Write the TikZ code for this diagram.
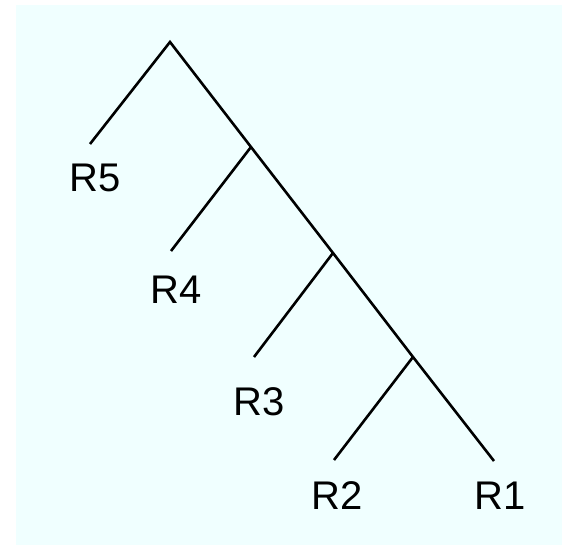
\documentclass[tikz,border=0pt]{standalone}
\usepackage{fontspec}
\setmainfont{Liberation Sans}
\definecolor{bgcyan}{RGB}{240,255,255}
\begin{document}
\begin{tikzpicture}[x=1pt,y=-1pt,
  edge/.style={line width=2.6pt,line join=miter},
  lbl/.style={anchor=base,inner sep=0pt,font=\fontsize{40}{48}\selectfont}]
\useasboundingbox (0,0) rectangle (562,545);
\fill[bgcyan] (16,5) rectangle (562,545);
\coordinate (root) at (170,42);
\coordinate (a) at (251,147);
\coordinate (b) at (333,253);
\coordinate (c) at (413,357);
\coordinate (l5) at (90,144);
\coordinate (l4) at (171,251);
\coordinate (l3) at (254,357);
\coordinate (l2) at (334,460);
\coordinate (l1) at (494,461);
\draw[edge] (l5) -- (root) -- (a) -- (b) -- (c) -- (l1);
\draw[edge] (a) -- (l4);
\draw[edge] (b) -- (l3);
\draw[edge] (c) -- (l2);
\node[lbl] (t5) at (95,192) {R5};
\node[lbl] (t4) at (176,303) {R4};
\node[lbl] (t3) at (259,415) {R3};
\node[lbl] (t2) at (337,509) {R2};
\node[lbl] (t1) at (500,509) {R1};
\end{tikzpicture}
\end{document}
